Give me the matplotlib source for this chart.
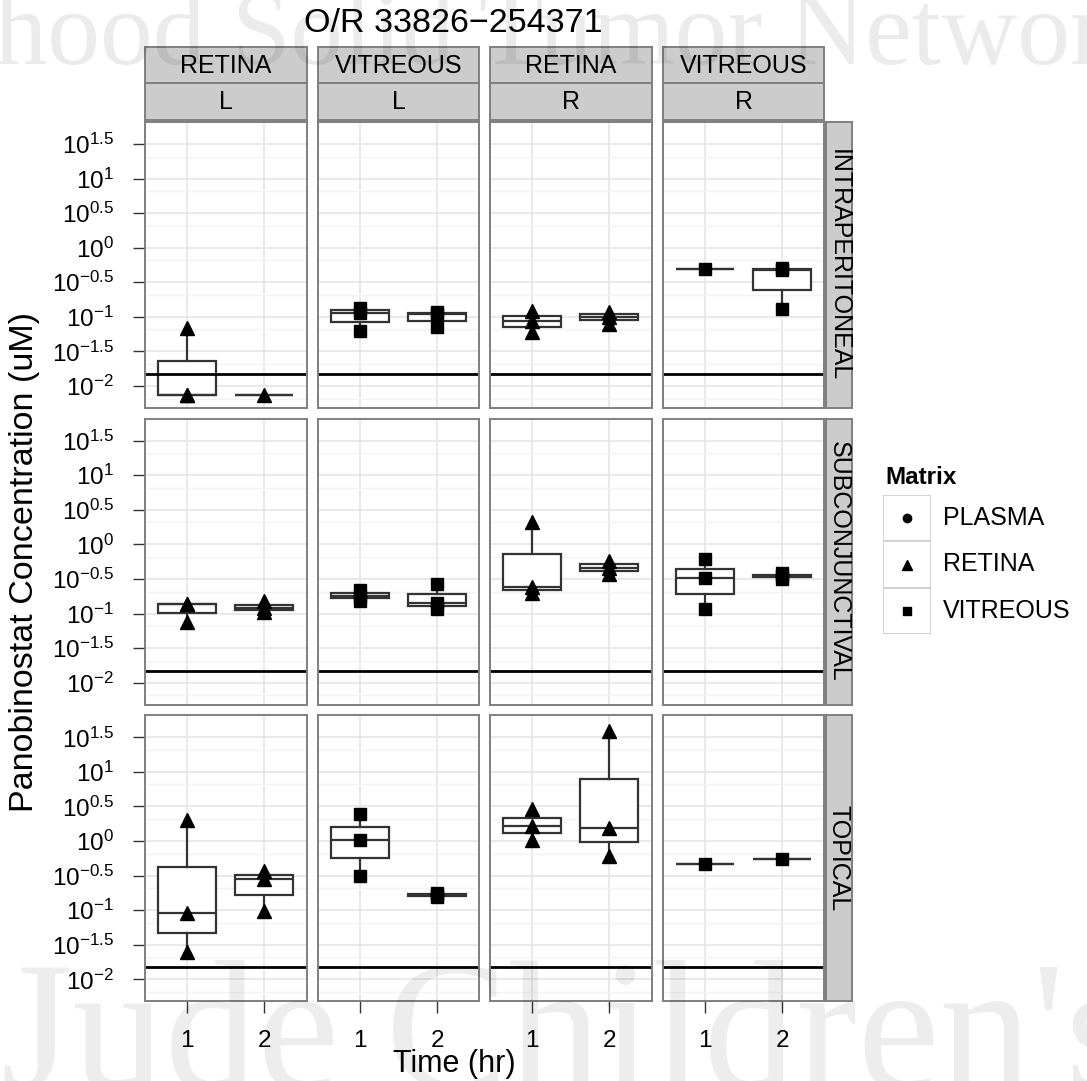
import numpy as np
import matplotlib
matplotlib.use("Agg")
from matplotlib import pyplot as plt
from matplotlib.patches import Rectangle

plt.rcParams["font.family"] = ["Liberation Sans", "DejaVu Sans"]
plt.rcParams["mathtext.fontset"] = "custom"
plt.rcParams["mathtext.rm"] = "Liberation Sans"
plt.rcParams["mathtext.it"] = "Liberation Sans:italic"
plt.rcParams["mathtext.bf"] = "Liberation Sans:bold"

title = "O/R 33826\u2212254371"
routes = ["INTRAPERITONEAL", "SUBCONJUNCTIVAL", "TOPICAL"]
panel_matrix = ["RETINA", "VITREOUS", "RETINA", "VITREOUS"]
panel_eye = ["L", "L", "R", "R"]
times = [1, 2]
legend_labels = ["PLASMA", "RETINA", "VITREOUS"]
legend_markers = ["o", "^", "s"]
lloq = 0.015  # uM

# concentrations (uM); one entry per panel: [time 1 values, time 2 values]
intraperitoneal = [
    [[0.0075, 0.0075, 0.0684], [0.0075]],
    [[0.0615, 0.1146, 0.1365], [0.0716, 0.1086, 0.1183]],
    [[0.0596, 0.0873, 0.121], [0.080, 0.0995, 0.118]],
    [[0.50], [0.1306, 0.469, 0.506]],
]
subconjunctival = [
    [[0.0766, 0.138, 0.138], [0.105, 0.121, 0.151]],
    [[0.151, 0.181, 0.216], [0.117, 0.140, 0.269]],
    [[0.198, 0.246, 2.13], [0.372, 0.463, 0.577]],
    [[0.117, 0.323, 0.622], [0.316, 0.352, 0.381]],
]
topical = [
    [[0.0249, 0.0902, 2.02], [0.0973, 0.281, 0.372]],
    [[0.31, 1.04, 2.49], [0.154, 0.164, 0.175]],
    [[1.02, 1.66, 2.86], [0.608, 1.54, 39.4]],
    [[0.473], [0.557]],
]
route_data = [intraperitoneal, subconjunctival, topical]

W, H = 1087, 1081


def px_box(x0, y0, x1, y1):
    return [x0 / W, 1 - y1 / H, (x1 - x0) / W, (y1 - y0) / H]


fig = plt.figure(figsize=(W / 100, H / 100), dpi=100)

col_left = [145, 317.7, 490, 662.7]
col_w = 161.7
row_top = [122, 418.7, 715.3]
row_h = 286
border = "#7f7f7f"
box_col = "#333333"

major = np.arange(-2, 1.51, 0.5)
minor = np.log10((10 ** major + 10 ** (major - 0.5)) / 2)
minor = np.append(minor, np.log10((10 ** 2.0 + 10 ** 1.5) / 2))
tick_labels = [f"$10^{{{v:g}}}$" for v in major]

for r, route in enumerate(routes):
    for c in range(4):
        ax = fig.add_axes(px_box(col_left[c], row_top[r], col_left[c] + col_w, row_top[r] + row_h))
        ax.set_xlim(0.45, 2.55)
        ax.set_ylim(-2.318, 1.756)
        ax.set_xticks(times)
        ax.set_yticks(major)
        ax.set_yticks(minor, minor=True)
        ax.set_axisbelow(True)
        ax.grid(which="major", color="#e5e5e5", lw=1.2)
        ax.grid(which="minor", axis="y", color="#f3f3f3", lw=1.0)
        for s in ax.spines.values():
            s.set_color(border)
            s.set_linewidth(1.4)
            s.set_zorder(6)

        panel = route_data[r][c]
        logs = [np.log10(v) for v in panel]
        ax.boxplot(logs, positions=times, widths=0.75, whis=1.5, showfliers=False,
                   showcaps=False, patch_artist=True, manage_ticks=False,
                   boxprops=dict(facecolor="white", edgecolor=box_col, lw=1.6),
                   medianprops=dict(color=box_col, lw=1.6),
                   whiskerprops=dict(color=box_col, lw=1.6))
        ax.axhline(np.log10(lloq), color="black", lw=2, zorder=3)
        mk = "^" if panel_matrix[c] == "RETINA" else "s"
        ms = 10 if mk == "^" else 9
        for t, v in zip(times, logs):
            ax.plot(np.full(len(v), t), v, ls="none", marker=mk, ms=ms,
                    color="black", zorder=5)

        ax.tick_params(which="minor", length=0)
        ax.tick_params(axis="y", length=8.4, width=1, color=box_col, pad=14,
                       labelsize=17.5, labelcolor="black")
        ax.tick_params(axis="x", length=8.4, width=1, color=box_col, pad=12,
                       labelsize=17.5, labelcolor="black")
        if c == 0:
            ax.set_yticklabels(tick_labels)
        else:
            ax.tick_params(axis="y", length=0, labelleft=False)
        if r == 2:
            ax.set_xticklabels([str(t) for t in times])
        else:
            ax.tick_params(axis="x", length=0, labelbottom=False)

    # right strip with route name
    sx = fig.add_axes(px_box(825.5, row_top[r], 852, row_top[r] + row_h))
    sx.set_facecolor("#cccccc")
    sx.set_xticks([])
    sx.set_yticks([])
    for s in sx.spines.values():
        s.set_color(border)
        s.set_linewidth(1.4)
    sx.text(0.5, 0.5, route, rotation=-90, ha="center", va="center",
            fontsize=18, transform=sx.transAxes)

# top strips: matrix over eye
for c in range(4):
    for (y0, y1), lab in zip([(46.5, 82.5), (82.5, 120)], [panel_matrix[c], panel_eye[c]]):
        sx = fig.add_axes(px_box(col_left[c], y0, col_left[c] + col_w, y1))
        sx.set_facecolor("#cccccc")
        sx.set_xticks([])
        sx.set_yticks([])
        for s in sx.spines.values():
            s.set_color(border)
            s.set_linewidth(1.4)
        sx.text(0.5, 0.47, lab, ha="center", va="center", fontsize=18,
                transform=sx.transAxes)

# titles
fig.text(453 / W, 1 - 23 / H, title, ha="center", va="center", fontsize=24.5)
fig.text(454 / W, 1 - 1064 / H, "Time (hr)", ha="center", va="center", fontsize=22)
fig.text(25 / W, 1 - 562 / H, "Panobinostat Concentration (uM)", rotation=90,
         ha="center", va="center", fontsize=24.5)

# legend
fig.text(885 / W, 1 - 477 / H, "Matrix", ha="left", va="center", fontsize=17.5,
         fontweight="bold")
lx = fig.add_axes(px_box(883, 495, 931, 634))
lx.set_xlim(0, 1)
lx.set_ylim(3, 0)
lx.axis("off")
for i, (lab, mk) in enumerate(zip(legend_labels, legend_markers)):
    lx.add_patch(Rectangle((0, i), 1, 1, facecolor="white", edgecolor="#cccccc", lw=1.2))
    lx.plot([0.5], [i + 0.5], ls="none", marker=mk,
            ms={"o": 6, "^": 7, "s": 6}[mk], color="black")
    fig.text(943 / W, 1 - (495 + 46.3 * (i + 0.5)) / H, lab, ha="left", va="center",
             fontsize=18)

# faint watermark
fig.text(-240 / W, 1 - 64 / H, "Childhood Solid Tumor Network", family="Liberation Serif",
         fontsize=76, color="black", alpha=0.08, ha="left", va="baseline", zorder=10)
fig.text(-246 / W, 1 - 1088 / H, "St. Jude Children's Research Hospital",
         family="Liberation Serif", fontsize=133, color="black", alpha=0.07,
         ha="left", va="baseline", zorder=10)

fig.savefig("out.png", dpi=100, facecolor="white")
